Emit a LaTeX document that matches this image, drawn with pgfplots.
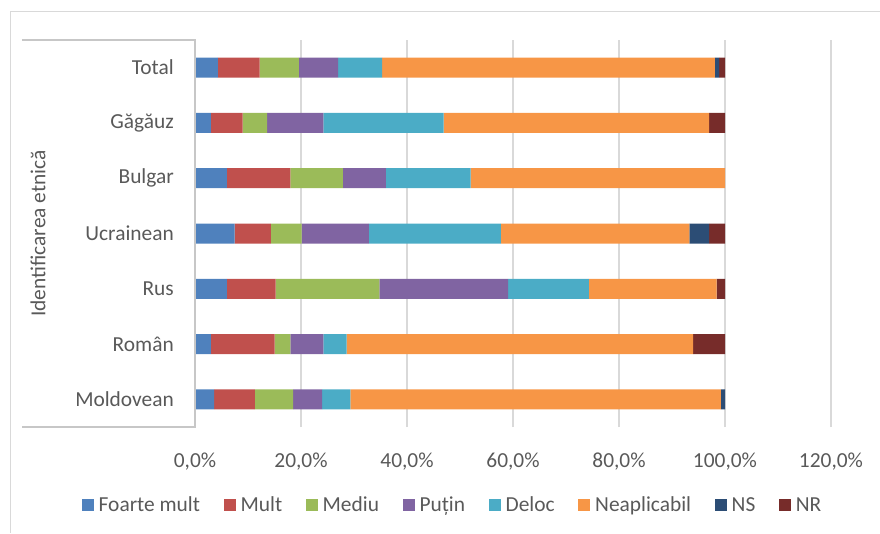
\documentclass[border=0pt]{standalone}
\usepackage{pgfplots}
\pgfplotsset{compat=1.18}
\usepackage{pgfplotstable}
\usepackage{fontspec}
\setmainfont{Carlito}

\definecolor{cFM}{HTML}{4F81BD}
\definecolor{cM}{HTML}{C0504D}
\definecolor{cMe}{HTML}{9BBB59}
\definecolor{cP}{HTML}{8064A2}
\definecolor{cD}{HTML}{4BACC6}
\definecolor{cN}{HTML}{F79646}
\definecolor{cNS}{HTML}{2C4D75}
\definecolor{cNR}{HTML}{772C2A}
\definecolor{txt}{HTML}{595959}
\definecolor{gridc}{HTML}{D9D9D9}

% Shares (%) per ethnic group; y = row position (0 = bottom)
\pgfplotstableread{
y  FM   M    Me   P    D    N    NS   NR
0  3.6  7.7  7.2  5.5  5.3  69.9 0.8  0.0
1  3.0  12.0 3.0  6.2  4.4  65.4 0.0  6.0
2  6.0  9.2  19.6 24.3 15.2 24.1 0.0  1.6
3  7.5  6.8  5.8  12.7 24.9 35.6 3.7  3.0
4  6.0  12.0 9.9  8.1  16.0 48.0 0.0  0.0
5  3.0  6.0  4.6  10.6 22.7 50.1 0.0  3.0
6  4.3  7.9  7.4  7.4  8.3  62.8 0.8  1.1
}\datatable

\newcommand\chartfont{\fontsize{21.4}{25}\selectfont}
\pgfplotsset{sq legend/.style={legend image code/.code={\fill[##1] (0pt,-6pt) rectangle (12pt,6pt);}}}

\begin{document}
\begin{tikzpicture}
\path[use as bounding box] (-195pt,-106pt) rectangle (685pt,427pt);
% outer chart frame
\draw[gridc, line width=1pt] (-184pt,-106pt) -- (-184pt,415pt) -- (685pt,415pt);
\begin{axis}[
  at={(0pt,0pt)}, anchor=south west,
  scale only axis, width=636pt, height=387pt,
  xbar stacked, bar width=20pt,
  xmin=0, xmax=120, ymin=-0.5, ymax=6.5,
  xtick={0,20,...,120},
  xticklabels={{0,0\%},{20,0\%},{40,0\%},{60,0\%},{80,0\%},{100,0\%},{120,0\%}},
  ytick={0,...,6},
  yticklabels={Moldovean,Român,Rus,Ucrainean,Bulgar,Găgăuz,Total},
  xmajorgrids, major grid style={gridc, line width=1.5pt},
  axis line style={draw=none},
  major tick length=0pt,
  tick label style={font=\chartfont, text=txt},
  xticklabel style={anchor=center, yshift=-35pt},
  yticklabel style={anchor=east, inner sep=0pt, xshift=-21pt},
  legend columns=8,
  legend cell align=left,
  legend style={at={(0.4072,-0.202)}, anchor=center, draw=none, fill=none,
    font=\chartfont, text=txt,
    nodes={inner xsep=5pt, inner ysep=0pt},
    /tikz/every even column/.append style={column sep=18.5pt}},
]
\addplot[fill=cFM, draw=none, sq legend] table[x=FM, y=y] {\datatable};
\addplot[fill=cM,  draw=none, sq legend] table[x=M,  y=y] {\datatable};
\addplot[fill=cMe, draw=none, sq legend] table[x=Me, y=y] {\datatable};
\addplot[fill=cP,  draw=none, sq legend] table[x=P,  y=y] {\datatable};
\addplot[fill=cD,  draw=none, sq legend] table[x=D,  y=y] {\datatable};
\addplot[fill=cN,  draw=none, sq legend] table[x=N,  y=y] {\datatable};
\addplot[fill=cNS, draw=none, sq legend] table[x=NS, y=y] {\datatable};
\addplot[fill=cNR, draw=none, sq legend] table[x=NR, y=y] {\datatable};
\legend{Foarte mult,Mult,Mediu,Puțin,Deloc,Neaplicabil,NS,NR}
\end{axis}
% box around the category axis area
\draw[gridc!80!gray, line width=1.2pt] (-173pt,387pt) -- (0pt,387pt) -- (0pt,0pt) -- (-173pt,0pt);
\node[rotate=90, font=\chartfont, text=txt] at (-157pt,193.5pt) {Identificarea etnică};
\end{tikzpicture}
\end{document}
